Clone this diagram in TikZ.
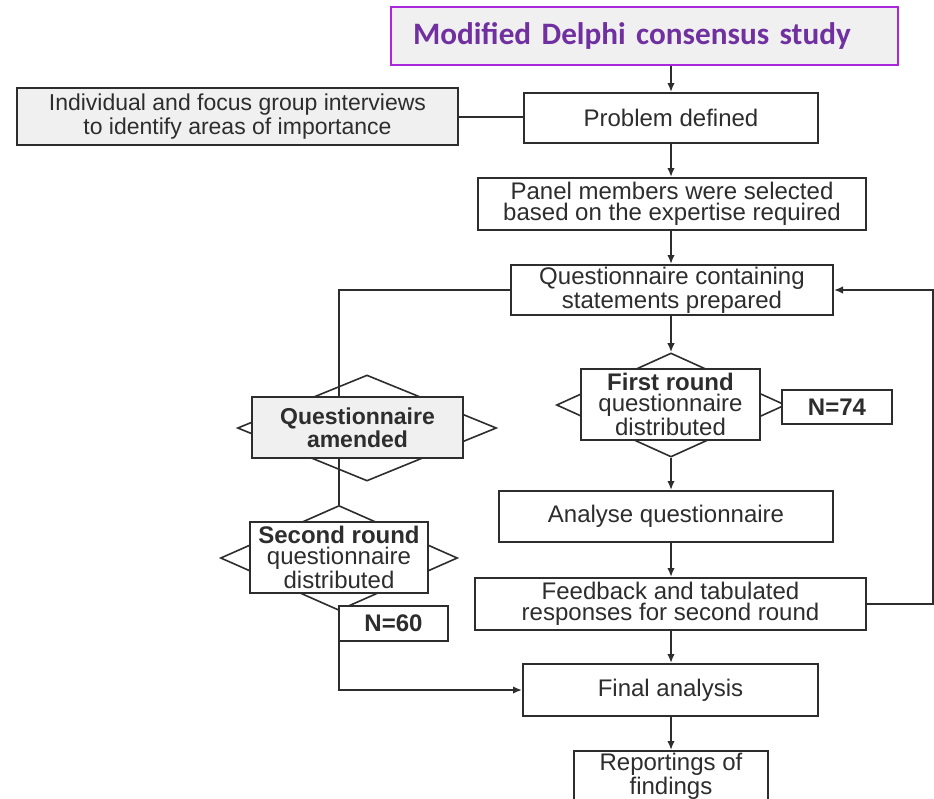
\documentclass[tikz,border=0pt]{standalone}
\usepackage{fontspec}
\setmainfont{Liberation Sans}
\newfontfamily\titlefont{Carlito}
\usetikzlibrary{shapes.geometric,arrows.meta,backgrounds}
\definecolor{purp}{RGB}{112,48,160}
\definecolor{purpline}{RGB}{170,40,220}
\definecolor{boxgray}{RGB}{240,240,240}
\definecolor{ink}{RGB}{45,45,45}

\begin{document}
\begin{tikzpicture}[x=0.5pt,y=-0.5pt,
        box/.style={draw=ink,line width=1pt,fill=white,text=ink,align=center,inner sep=0pt,font=\fontsize{12}{10.5}\selectfont},
        graybox/.style={box,fill=boxgray},
        dia/.style={diamond,draw=ink,line width=0.8pt,inner sep=0pt},
        line/.style={draw=ink,line width=1pt},
        arr/.style={line,-{Latex[length=4.5pt,width=3.8pt]}}]
        \useasboundingbox (0,0) rectangle (934,799);
        \clip (0,0) rectangle (934,799);

        \node[draw=purpline,line width=1pt,fill=boxgray,text=purp,align=left,inner xsep=11pt,text width=231.5pt,minimum height=29pt,font=\titlefont\bfseries\fontsize{15.6}{18}\selectfont] (title) at (644.5,36) {Modified Delphi consensus study};

        \node[graybox,minimum width=220.5pt,minimum height=28.5pt,font=\fontsize{11.5}{10.5}\selectfont] (interviews) at (237.5,116.5) {Individual and focus group interviews\\to identify areas of importance};
        \node[box,minimum width=147pt,minimum height=25pt] (problem) at (671,118) {Problem defined};
        \node[box,minimum width=194pt,minimum height=26pt] (panel) at (672,204) {Panel members were selected\\based on the expertise required};
        \node[box,minimum width=161pt,minimum height=25pt] (prepared) at (672,290) {Questionnaire containing\\statements prepared};

        % First round
        \node[dia,minimum width=114.5pt,minimum height=52pt] (firstdia) at (671,405) {};
        \node[box,minimum width=89.5pt,minimum height=35.5pt] (first) at (670.5,404.5) {\textbf{First round}\\questionnaire\\distributed};
        \node[box,font=\bfseries\fontsize{12}{10.5}\selectfont,minimum width=55pt,minimum height=17pt] (nfirst) at (837,407) {N=74};

        % Amended and second round
        \node[dia,minimum width=129.5pt,minimum height=53pt] (amenddia) at (367,428) {};
        \node[graybox,font=\bfseries\fontsize{11.5}{10.5}\selectfont,minimum width=105.5pt,minimum height=30.5pt] (amend) at (357.5,427.5) {Questionnaire\\amended};
        \node[dia,minimum width=118.5pt,minimum height=52.5pt] (seconddia) at (339,558) {};
        \node[box,minimum width=89pt,minimum height=35.5pt] (second) at (339,557.5) {\textbf{Second round}\\questionnaire\\distributed};
        \node[box,font=\bfseries\fontsize{12}{10.5}\selectfont,minimum width=54.5pt,minimum height=17.5pt] (nsecond) at (393.5,623.5) {N=60};

        \node[box,minimum width=167pt,minimum height=25.5pt] (analyse) at (666,516.5) {Analyse questionnaire};
        \node[box,minimum width=195.5pt,minimum height=26pt] (feedback) at (670.5,604) {Feedback and tabulated\\responses for second round};
        \node[box,minimum width=147.5pt,minimum height=26pt] (final) at (670.5,690) {Final analysis};
        \node[box,minimum width=97pt,minimum height=25pt] (report) at (671,776) {Reportings of\\findings};

        \begin{scope}[on background layer]
        \draw[arr] (problem.north |- title.south) -- (problem.north);
        \draw[line] (interviews.east) -- (interviews.east -| problem.west);
        \draw[arr] (problem.south) -- (problem.south |- panel.north);
        \draw[arr] (problem.south |- panel.south) -- (problem.south |- prepared.north);
        \draw[arr] (firstdia.north |- prepared.south) -- (firstdia.north);
        \draw[arr] (firstdia.south) -- (firstdia.south |- analyse.north);
        \draw[arr] (firstdia.south |- analyse.south) -- (firstdia.south |- feedback.north);
        \draw[arr] (firstdia.south |- feedback.south) -- (firstdia.south |- final.north);
        \draw[arr] (firstdia.south |- final.south) -- (firstdia.south |- report.north);

        % left branch
        \draw[line] (prepared.west) -| (seconddia.north);
        \draw[arr] (seconddia.south) |- (final.west);

        % back to the questionnaire
        \draw[arr] (feedback.east) -- ++(66,0) |- (prepared.east);
        \end{scope}
    \end{tikzpicture}
\end{document}
